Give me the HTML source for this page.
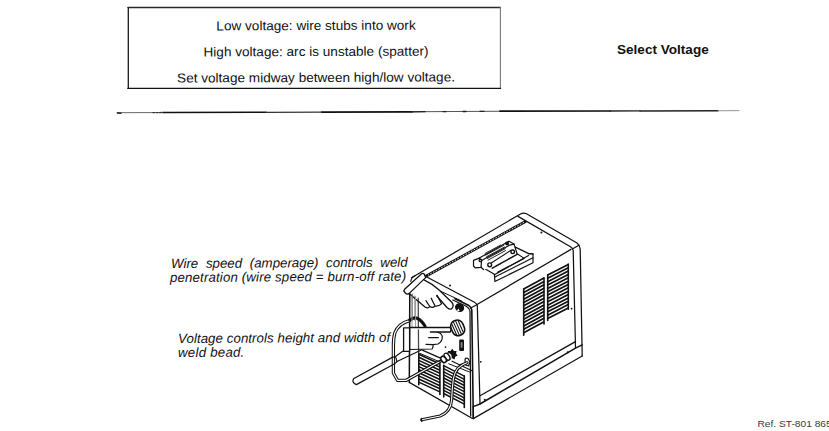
<!DOCTYPE html>
<html><head><meta charset="utf-8">
<style>
html,body{margin:0;padding:0;background:#fff;}
body{width:829px;height:431px;position:relative;overflow:hidden;font-family:"Liberation Sans",sans-serif;color:#111;}
.box{position:absolute;left:128px;top:7px;width:373px;height:83px;border:1.5px solid #222;border-top-width:2px;box-sizing:border-box;}
.t{position:absolute;white-space:pre;line-height:1;}
.bl{font-size:13px;transform:rotate(-0.22deg) scaleX(1.045);transform-origin:316px 50%;}
.it{font-style:italic;font-size:13.3px;transform:rotate(-0.3deg);transform-origin:0 50%;}
svg{position:absolute;left:0;top:0;}
</style></head><body>
<div class="t bl" style="left:0;width:632px;text-align:center;top:19.4px;">Low voltage: wire stubs into work</div>
<div class="t bl" style="left:0;width:632px;text-align:center;top:45px;">High voltage: arc is unstable (spatter)</div>
<div class="t bl" style="left:0;width:632px;text-align:center;top:70.5px;">Set voltage midway between high/low voltage.</div>
<div class="t" style="left:617px;top:43px;font-size:13.3px;font-weight:bold;transform:scaleX(1.02);transform-origin:0 0;">Select Voltage</div>
<div class="t it" style="left:171px;top:256.5px;word-spacing:3.95px;">Wire speed (amperage) controls weld</div>
<div class="t it" style="left:170px;top:270.8px;letter-spacing:0.13px;">penetration (wire speed = burn-off rate)</div>
<div class="t it" style="left:178px;top:331.8px;letter-spacing:0.055px;">Voltage controls height and width of</div>
<div class="t it" style="left:178px;top:346.2px;letter-spacing:0.22px;">weld bead.</div>
<div class="t" style="left:757.5px;top:419px;font-size:10.2px;color:#3a3a3a;transform:scaleY(0.88);transform-origin:0 9px;">Ref. ST-801 865</div>
<svg width="829" height="431" viewBox="0 0 829 431">
<g fill="none" stroke="#111" stroke-width="1.3" stroke-linejoin="round" stroke-linecap="round">
<!-- horizontal rule -->
<path d="M128.3 7.6 L128.3 88.4" stroke="#1a1a1a" stroke-width="1.3"/>
<path d="M128 7.6 L500.4 7.6" stroke="#2a2a2a" stroke-width="1.5"/>
<path d="M500.4 7.2 L500.4 88.4" stroke="#777" stroke-width="1.1"/>
<path d="M127.8 88.3 L500.6 88.3" stroke="#111" stroke-width="1.3"/>
<path d="M117 112.7 L153 112.6" stroke="#666" stroke-width="1"/>
<path d="M117.5 113 L121 113.2" stroke="#222" stroke-width="1.4"/>
<path d="M153 112.6 L164 112.5" stroke="#333" stroke-width="1.3" stroke-dasharray="2 1.2"/>
<path d="M164 112.5 L266 112.3" stroke="#111" stroke-width="1.6"/>
<path d="M266 112.3 L322 112.1" stroke="#333" stroke-width="1.2"/>
<path d="M322 112.1 L412 111.8" stroke="#111" stroke-width="1.7"/>
<path d="M412 111.8 L500 111.2" stroke="#555" stroke-width="1.1"/>
<path d="M412 111.8 L425 111.7 M443 111.6 L446 111.6 M463 111.5 L466 111.5 M480 111.3 L484 111.3" stroke="#222" stroke-width="1.3"/>
<path d="M500 111.2 L610 111" stroke="#111" stroke-width="1.7"/>
<path d="M610 111 L640 110.9" stroke="#222" stroke-width="1.4"/>
<path d="M640 110.9 L718 110.8" stroke="#222" stroke-width="1.5"/>
<path d="M718 110.8 L739 110.6" stroke="#888" stroke-width="0.9"/>
</g>
<!--DRAW-->
<g fill="none" stroke="#111" stroke-width="1.25" stroke-linejoin="round" stroke-linecap="round">
<!-- cover outer: back-left edge, apex, right edge, right outer vertical -->
<path d="M411.5 277.8 L520.5 214 Q523.5 212.2 526.5 213.8 L577 243 Q580 245.5 580.2 249 L582.2 356"/>
<!-- cover inner band right -->
<path d="M518 216.4 L570.5 246.8 Q572.8 248.3 573.2 250.5 L575.5 347.6"/>
<path d="M572.7 248.7 L579 245.2"/>
<!-- side panel top edge -->
<path d="M571 249.4 L477 304.5"/>
<!-- top face front edge and corner vertical -->
<path d="M425.4 276.2 L474.5 302.2 Q476.8 303.5 477.3 305.5 L480 404"/>
<!-- cover bevel at D -->
<path d="M476.8 304.7 L470.8 308"/>
<!-- front panel inner frame right (two lines) -->
<path d="M452.8 300 L466.3 306.3 Q469.5 308.5 470 311 L470.7 416"/>
<path d="M455 298.7 L468.4 305.2 Q471.4 307.5 471.8 310 L473.3 418.5" stroke-width="1.6"/>
<!-- front panel left frame verticals -->
<path d="M409.8 293.8 L409.3 382.4" stroke-width="1.5"/>
<path d="M412.2 294 L412.2 320" stroke="#777"/>
<path d="M415 296 L415 320" stroke="#888"/>
<path d="M418.2 298 L418.6 354" stroke="#444"/>
<!-- front panel bottom edge -->
<path d="M409.3 382.4 L472.4 418.5"/>
<!-- side panel bottom edge -->
<path d="M480 395.7 L575.5 341.6"/>
<!-- base -->
<path d="M473.3 406.6 L480 404 L575.5 348.1 L582.2 344.8" stroke-width="1.5"/>
<path d="M473.3 406.6 L473.3 418.6 L582.2 356"/>
<!-- dots -->
<circle cx="541.4" cy="232.6" r="1" fill="#111" stroke="none"/>
<circle cx="450" cy="285.6" r="1" fill="#111" stroke="none"/>
<circle cx="571.6" cy="308.7" r="0.9" fill="#111" stroke="none"/>
<circle cx="567.8" cy="352.3" r="1.1" fill="#111" stroke="none"/>
<circle cx="484.8" cy="399.8" r="1" fill="#111" stroke="none"/>
<circle cx="480.8" cy="361.8" r="0.9" fill="#111" stroke="none"/>
<circle cx="445.5" cy="347.1" r="0.9" fill="#111" stroke="none"/>
</g>
<!-- vent strip -->
<path d="M526 221.2 L425.8 276.3" stroke="#111" stroke-width="2.7" fill="none"/>
<path d="M524 222.3 L428 275.1" stroke="#fff" stroke-width="0.9" stroke-dasharray="1.6 1.5" fill="none"/>
<path d="M523.7 289.10 L544.0 278.10 M523.7 292.45 L544.0 281.45 M523.7 295.80 L544.0 284.80 M523.7 299.15 L544.0 288.15 M523.7 302.50 L544.0 291.50 M523.7 305.85 L544.0 294.85 M523.7 309.20 L544.0 298.20 M523.7 312.55 L544.0 301.55 M523.7 315.90 L544.0 304.90 M523.7 319.25 L544.0 308.25 M523.7 322.60 L544.0 311.60 M523.7 325.95 L544.0 314.95 M523.7 329.30 L544.0 318.30 M523.7 332.65 L544.0 321.65" stroke="#111" stroke-width="1.7" fill="none"/>
<path d="M523.7 288.8 L523.7 335.3 M544 277.8 L544 324.1" stroke="#111" stroke-width="1.6" fill="none" stroke-linecap="round"/>
<path d="M547.7 275.00 L568.3 264.40 M547.7 278.35 L568.3 267.75 M547.7 281.70 L568.3 271.10 M547.7 285.05 L568.3 274.45 M547.7 288.40 L568.3 277.80 M547.7 291.75 L568.3 281.15 M547.7 295.10 L568.3 284.50 M547.7 298.45 L568.3 287.85 M547.7 301.80 L568.3 291.20 M547.7 305.15 L568.3 294.55 M547.7 308.50 L568.3 297.90 M547.7 311.85 L568.3 301.25 M547.7 315.20 L568.3 304.60 M547.7 318.55 L568.3 307.95" stroke="#111" stroke-width="1.7" fill="none"/>
<path d="M547.7 274.7 L547.7 320.4 M568.3 264.1 L568.3 309.3" stroke="#111" stroke-width="1.6" fill="none" stroke-linecap="round"/>
<path d="M418.8 354.20 L439.9 364.00 M418.8 357.30 L439.9 367.10 M418.8 360.40 L439.9 370.20 M418.8 363.50 L439.9 373.30 M418.8 366.60 L439.9 376.40 M418.8 369.70 L439.9 379.50 M418.8 372.80 L439.9 382.60 M418.8 375.90 L439.9 385.70 M418.8 379.00 L439.9 388.80 M418.8 382.10 L439.9 391.90" stroke="#111" stroke-width="1.5" fill="none"/>
<path d="M418.8 353.9 L418.8 384.8 M439.9 363.7 L439.9 394.5" stroke="#111" stroke-width="1.6" fill="none" stroke-linecap="round"/>
<path d="M443.7 365.60 L464.3 376.20 M443.7 368.70 L464.3 379.30 M443.7 371.80 L464.3 382.40 M443.7 374.90 L464.3 385.50 M443.7 378.00 L464.3 388.60 M443.7 381.10 L464.3 391.70 M443.7 384.20 L464.3 394.80 M443.7 387.30 L464.3 397.90 M443.7 390.40 L464.3 401.00 M443.7 393.50 L464.3 404.10" stroke="#111" stroke-width="1.5" fill="none"/>
<path d="M443.7 365.3 L443.7 397 M464.3 375.9 L464.3 407.5" stroke="#111" stroke-width="1.6" fill="none" stroke-linecap="round"/>
<g fill="none" stroke="#111" stroke-width="1.2" stroke-linejoin="round" stroke-linecap="round">
<!-- handle -->
<path d="M481 266.5 L494.4 274.2 L494.9 281.5 L533 262.7 L533 253.9 L528.8 253.6 L515.3 247.1 Z" fill="#fff"/>
<path d="M494.4 274.8 L528.5 255.6 M494.9 277 L533 257.8 M528.5 253.6 L533 253.9"/>
<path d="M497.5 272.2 L524.2 258.4 L517.5 254" stroke-width="1.1"/>
<path d="M479.3 258.1 L508.9 241.2 L514.1 244.1 L516.3 254.4 L492.3 268 L483.5 269.5 L481 267.3 Z" fill="#fff" stroke="none"/>
<path d="M483.5 269.5 L481 267.3 L479.3 258.1 L508.9 241.2 L514.1 244.1 L517.2 254.3"/>
<path d="M473.5 260.4 L479.3 258.1 L481.6 260.5 L481 267.3 L475.2 267.9 L473.5 266 Z" fill="#fff"/>
<path d="M481.6 260.5 L509.5 245.2 L514.1 244.1"/>
<path d="M491.3 263 L511.1 250.2" stroke-width="1.1"/>
<path d="M492.2 268.2 L517.2 254.3" stroke-width="1.5" stroke-dasharray="1.3 0.8"/>
<path d="M486.5 256.8 L504.5 247 M487.3 258.5 L505.3 248.7 M485.8 255.1 L503.8 245.3 M488 260.2 L505.5 250.6 M485.2 253.4 L500.5 245.1" stroke-width="0.9"/>
<circle cx="480.4" cy="260.4" r="1.3"/>
<circle cx="489.7" cy="264.8" r="1.9" fill="#fff" stroke-width="1.4"/>
<circle cx="507.1" cy="243.5" r="1.4" fill="#111"/>
<circle cx="512.7" cy="251.8" r="1.8" fill="#fff" stroke-width="1.4"/>
<!-- upper hand cuff -->
<path d="M404.6 289.3 L421.3 274 Q422.8 272.9 424.2 274 L425.6 277.6 L409 293.6 Q407 294.8 405.6 293.3 L403.8 291 Z" fill="#fff" stroke-width="1.3"/>
<path d="M415 275.7 Q411.2 277.5 410.8 281.3"/>
<!-- upper hand -->
<path d="M424 279.8 Q433 284 439.4 290.3 L452 302.5 Q454.5 306 451.5 309 Q449.5 309.8 447 307.5 L436.6 295.8" stroke-width="1.3"/>
<path d="M409 293.6 L425 307 Q428 309 429.8 306.5 L425.9 300.7 M429.8 306.5 Q432.5 308.5 435 306 L431.2 298.2 M435 306 Q439 306.5 441.5 303.8 L437.1 295.3" stroke-width="1.25"/>
<path d="M441 291.4 L462 301.2" stroke-width="1"/>
<!-- upper small knob -->
<ellipse cx="459.6" cy="307.6" rx="4.7" ry="4.3" transform="rotate(30 459.6 307.6)" fill="#111" stroke="none"/>
<path d="M456.8 310.8 L458.6 308.6 L459.8 311.2 Z" fill="#fff" stroke="none"/>
<!-- big voltage knob -->
<g transform="translate(457.7 327.9) rotate(66)">
<rect x="-7.8" y="-6.3" width="15.6" height="12.6" rx="6" ry="5.5" fill="#fff" stroke-width="1.6"/>
<path d="M-6 -3.3 L6.5 -3.3 M-7 -0.9 L7 -0.9 M-7 1.5 L7 1.5 M-6 3.8 L6 3.8" stroke-width="1.05"/>
</g>
<!-- switch -->
<rect x="459.2" y="339.5" width="4.8" height="11.5" rx="1" fill="#111" stroke="none"/>
<rect x="460.7" y="342.2" width="1.8" height="5.5" fill="#888" stroke="none"/>
<!-- cable loop (gun cable) -->
<path d="M409.6 320.7 Q398.5 323.5 394.8 333 Q393.4 338 393.4 346 L393.4 373 L397.5 380.3 L406.3 380.3 L440 361.5" stroke="#111" stroke-width="3.3"/>
<path d="M409.6 320.7 Q398.5 323.5 394.8 333 Q393.4 338 393.4 346 L393.4 373 L397.5 380.3 L406.3 380.3 L440 361.5" stroke="#fff" stroke-width="1.2"/>
<path d="M409.8 320 Q417 313.5 425 326" stroke-width="3.2"/>
<!-- frame verticals left (grey) -->
<path d="M412 296 L412 327 M415.6 297 L415.6 327" stroke="#999" stroke-width="1"/>
<!-- lower hand -->
<rect x="403.6" y="327.8" width="6" height="23.6" fill="#fff" stroke-width="1.3"/>
<path d="M409.6 327.5 L450.1 327.5 Q452 329.8 450.1 332 L430.4 332" fill="#fff" stroke-width="1.3"/>
<path d="M409.6 349.5 L432.1 349 Q433.5 347 433 344.7 L426 344.3 M433 344.7 L438 344 Q442.5 341.5 442.3 336.5 Q441 332.5 437.5 332.5 M428.7 337.7 L438.2 337.7"/>
<!-- lower step lines -->
<path d="M421.7 349.9 L441.7 358.6 M452.1 361.2 L472 370.7" stroke-width="1.2"/>
<path d="M420 353.4 L440 362 M448.7 363.8 L469.5 372" stroke-width="1"/>
<!-- gun rod -->
<path d="M392.3 357.4 L353.5 378.8 Q351.5 383 356.4 384.6 L394.6 363.8" stroke-width="1.2"/>
<path d="M392.3 357.4 L395.5 356.5 L397 361.5 L394.6 363.8" stroke-width="1.1"/>
<path d="M395.5 356.5 L403 351 M397 361.5 L420.7 350.2" stroke-width="1.1"/>
<!-- connector -->
<path d="M452.2 348.8 L453.9 350.9 L456.6 350.9 L456.0 353.5 L457.7 355.6 L455.2 356.8 L454.6 359.4 L452.2 358.3 L449.8 359.4 L449.2 356.8 L446.7 355.6 L448.4 353.5 L447.8 350.9 L450.5 350.9 Z" fill="#111" stroke="none"/>
<path d="M449 353.8 Q451.5 355 451 358.5" stroke="#fff" stroke-width="1.3"/>
<path d="M444.5 355 L448 352.8 M443.5 362.8 L450 359.5" stroke-width="1.2"/>
<ellipse cx="447" cy="356.6" rx="2.3" ry="3.8" transform="rotate(-35 447 356.6)" fill="#fff" stroke-width="1.3"/>
<ellipse cx="443.6" cy="359.4" rx="2.4" ry="3.4" transform="rotate(-35 443.6 359.4)" fill="#fff" stroke-width="1.5"/>
<!-- work cable connector -->
<path d="M465 360 Q465 357.5 468 358.5 L470 362 L468.5 366 L465.5 365 Z" fill="#fff" stroke-width="1.2"/>
<!-- work cable -->
<path d="M467 362.8 Q456 366 453.5 378 Q452.3 386 451.6 400 Q450.8 412 440 416 L421.8 419.8" stroke="#111" stroke-width="3.2"/>
<path d="M467 362.8 Q456 366 453.5 378 Q452.3 386 451.6 400 Q450.8 412 440 416 L421.8 419.8" stroke="#fff" stroke-width="1.1"/>
<path d="M421.3 418.3 L421.8 421.5" stroke-width="1.2"/>
</g>
<!--/DRAW-->
</svg>
</body></html>
